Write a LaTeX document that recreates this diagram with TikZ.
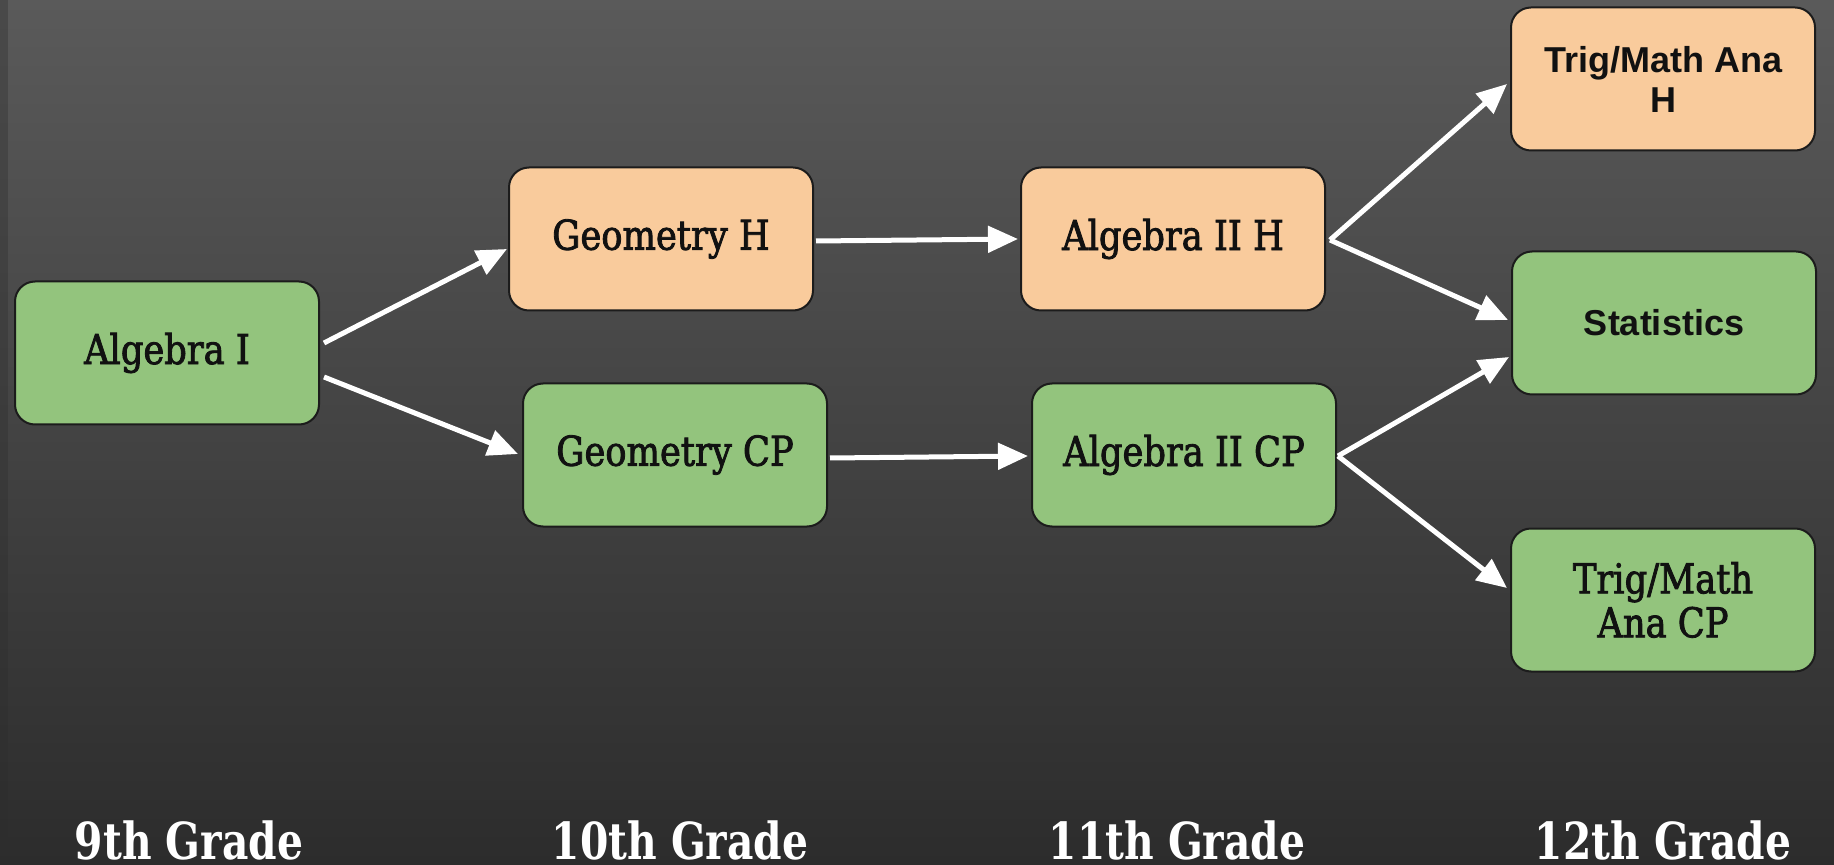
\documentclass[tikz,border=0pt]{standalone}
\usepackage{fontspec}
\usetikzlibrary{arrows.meta,calc}
\newfontfamily\boxserif[FakeStretch=0.86,FakeBold=2]{DejaVu Serif}
\newfontfamily\boxsans{Liberation Sans}
\newfontfamily\gradefont[FakeStretch=0.8]{DejaVu Serif}
\definecolor{bgtop}{HTML}{5A5A5A}
\definecolor{bgbot}{HTML}{2C2C2C}
\definecolor{greenfill}{HTML}{93C47D}
\definecolor{orangefill}{HTML}{F9CB9C}
\definecolor{boxline}{HTML}{1C1C1C}
\definecolor{boxtext}{HTML}{111111}
\tikzset{
  course/.style={rectangle, rounded corners=10pt, draw=boxline, line width=1pt,
    minimum width=152pt, minimum height=71.5pt, align=center, text=boxtext,
    inner sep=2pt},
  greenbox/.style={course, fill=greenfill},
  orangebox/.style={course, fill=orangefill},
  serifbox/.style={font=\boxserif\fontsize{20.5}{22}\selectfont},
  sansbox/.style={font=\boxsans\bfseries\fontsize{18}{20}\selectfont},
  arr/.style={draw=white, line width=2.5pt, -{Triangle[width=13pt,length=15pt]}},
  grade/.style={text=white, font=\gradefont\bfseries\fontsize{25.5}{27}\selectfont, anchor=base}
}
\begin{document}
\begin{tikzpicture}[x=0.5pt,y=-0.5pt]
\shade[top color=bgtop, bottom color=bgbot] (0,0) rectangle (1834,865);
\useasboundingbox (0,0) rectangle (1834,865);
\fill[black!65!gray, opacity=0.35] (0,0) rectangle (8,865);

\node[greenbox, serifbox] (alg1) at (167,353) {Algebra I};
\node[orangebox, serifbox] (geoh) at (661,239) {Geometry H};
\node[greenbox, serifbox] (geocp) at (675,455) {Geometry CP};
\node[orangebox, serifbox] (alg2h) at (1173,239) {Algebra II H};
\node[greenbox, serifbox] (alg2cp) at (1184,455) {Algebra II CP};
\node[orangebox, sansbox] (trigh) at (1663,79) {Trig/Math Ana\\H};
\node[greenbox, sansbox] (stats) at (1664,323) {Statistics};
\node[greenbox, serifbox] (trigcp) at (1663,600) {Trig/Math\\Ana CP};

\draw[arr] ($(alg1.east)+(4,-10)$) -- ($(geoh.west)+(-1,10)$);
\draw[arr] ($(alg1.east)+(4,24)$) -- ($(geocp.west)+(-4,-1)$);
\draw[arr] ($(geoh.east)+(2,2)$) -- ($(alg2h.west)+(-2,0)$);
\draw[arr] ($(geocp.east)+(2,3)$) -- ($(alg2cp.west)+(-3,1)$);
\draw[arr] ($(alg2h.east)+(4,1)$) -- ($(trigh.west)+(-3,5)$);
\draw[arr] ($(alg2h.east)+(4,1)$) -- ($(stats.west)+(-3,-3)$);
\draw[arr] ($(alg2cp.east)+(1,1)$) -- ($(stats.west)+(-2,34)$);
\draw[arr] ($(alg2cp.east)+(1,1)$) -- ($(trigcp.west)+(-3,-12)$);

\node[grade] (g9) at (189,859) {9th Grade};
\node[grade] (g10) at (680,859) {10th Grade};
\node[grade] (g11) at (1177,859) {11th Grade};
\node[grade] (g12) at (1663,859) {12th Grade};
\end{tikzpicture}
\end{document}
